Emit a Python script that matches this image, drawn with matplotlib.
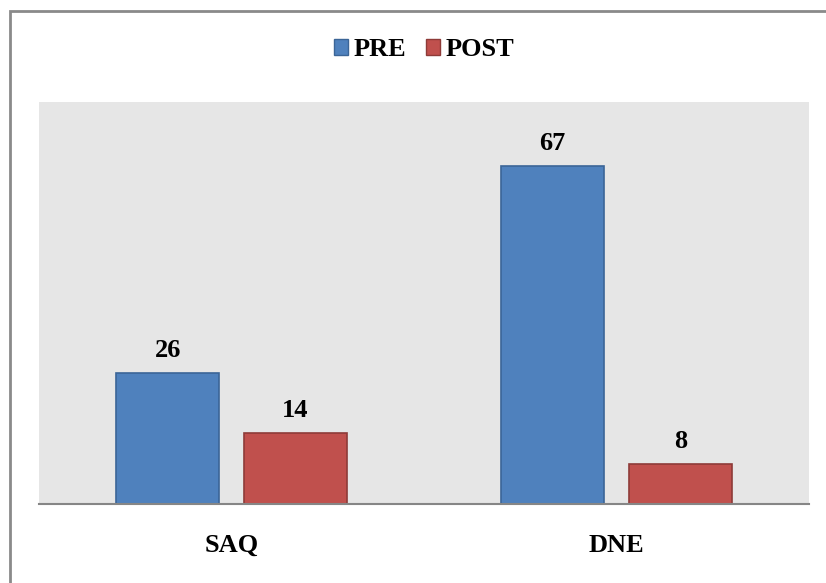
import matplotlib
matplotlib.use("Agg")
import matplotlib.pyplot as plt
from matplotlib.patches import Rectangle, Patch
import numpy as np

categories = ["SAQ", "DNE"]
series_names = ["PRE", "POST"]
pre_values = [26, 67]
post_values = [14, 8]

W, H = 826, 583
fig = plt.figure(figsize=(W / 100, H / 100), dpi=100)
fig.patch.set_facecolor("white")

font = "Liberation Serif"
fs = 19

# outer chart border
fig.patches.append(Rectangle((10 / W, -0.05), 1.2, (H - 11) / H + 0.05,
                             transform=fig.transFigure, fill=False,
                             edgecolor="#8a8a8a", linewidth=2.0))

ax = fig.add_axes([39 / W, (H - 504) / H, 770 / W, (504 - 102) / H])
ax.set_facecolor("#e6e6e6")

x = np.arange(len(categories))
bw = 0.268
off = 0.166
colors = ["#4f81bd", "#c0504d"]
edges = ["#3b6597", "#8e3b38"]
for vals, o, c, e in [(pre_values, -off, colors[0], edges[0]),
                      (post_values, off, colors[1], edges[1])]:
    bars = ax.bar(x + o, vals, width=bw, color=c, edgecolor=e, linewidth=1.2, zorder=2)
    for b, v in zip(bars, vals):
        ax.annotate(str(v), (b.get_x() + b.get_width() / 2, v),
                    xytext=(0, 11.5), textcoords="offset points",
                    ha="center", va="baseline", fontsize=fs,
                    fontweight="bold", family=font)

ax.set_xlim(-0.5, 1.5)
ax.set_ylim(0, 79.7)
ax.set_yticks([])
ax.set_xticks(x)
ax.set_xticklabels(categories, fontsize=fs, fontweight="bold", family=font)
ax.tick_params(axis="x", length=0, pad=21.5)
for s in ["top", "left", "right"]:
    ax.spines[s].set_visible(False)
ax.spines["bottom"].set_color("#868686")
ax.spines["bottom"].set_linewidth(1.5)
ax.spines["bottom"].set_zorder(3)

handles = [Patch(facecolor=colors[i], edgecolor=edges[i], label=series_names[i])
           for i in range(2)]
fig.legend(handles=handles, loc="center", bbox_to_anchor=(424 / W, 1 - 50 / H),
           ncol=2, frameon=False, handlelength=0.53, handleheight=0.53,
           handletextpad=0.22, columnspacing=0.75,
           prop={"family": font, "weight": "bold", "size": fs})

fig.savefig("out.png", dpi=100)
